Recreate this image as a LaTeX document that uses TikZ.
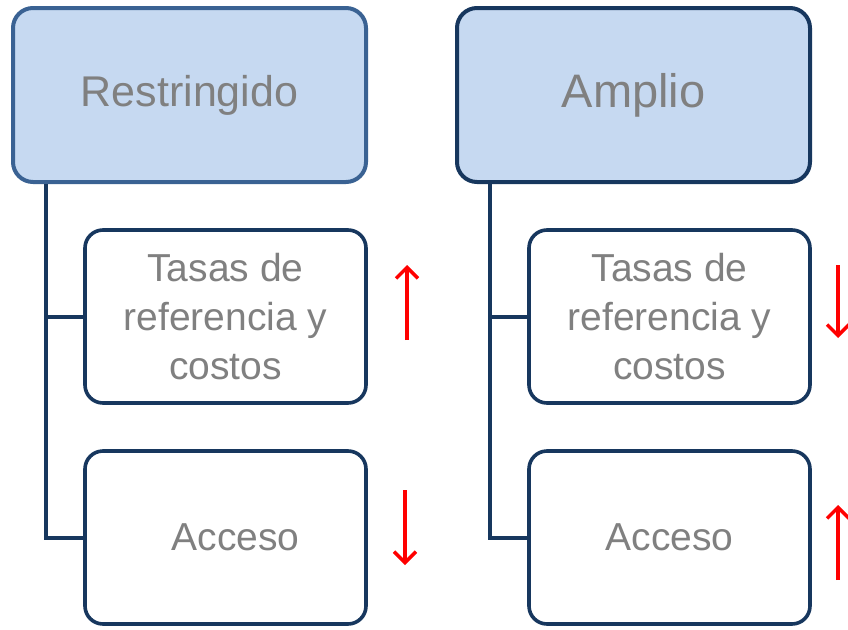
\documentclass[tikz,border=0pt]{standalone}
\usepackage{fontspec}
\setmainfont{Liberation Sans}
\usetikzlibrary{arrows.meta}
\definecolor{boxfill}{HTML}{C6D9F1}
\definecolor{navy}{HTML}{17375E}
\definecolor{midblue}{HTML}{3A6293}
\definecolor{txtgray}{HTML}{808080}
\tikzset{
    headbox/.style={draw=navy, fill=boxfill, line width=4pt, rounded corners=20pt, minimum width=353pt, minimum height=174pt, inner sep=0pt, text=txtgray, font=\fontsize{43}{52}\selectfont},
    itembox/.style={draw=navy, fill=white, line width=3.6pt, rounded corners=18pt, minimum width=281pt, minimum height=173pt, inner sep=0pt, text=txtgray, align=center, font=\fontsize{39}{49}\selectfont},
    branch/.style={draw=navy, line width=4pt},
    redarrow/.style={red, line width=3.4pt, -{Straight Barb[length=11pt,width=22pt,line width=3.4pt]}}
}
\begin{document}
\begin{tikzpicture}[x=1pt,y=-1pt]
        \useasboundingbox (0,0) rectangle (848,629);
        % left column
        \node[headbox, draw=midblue] (restr) at (189.5,95) {Restringido};
        \node[itembox] (restrTasas) at (225.5,316.5) {Tasas de\\referencia y\\costos};
        \node[itembox] (restrAcc) at (225.5,537.5) {\hspace*{20pt}Acceso};
        \draw[branch] ([xshift=35pt]restr.south west) |- (restrTasas.west);
        \draw[branch] ([xshift=35pt]restr.south west) |- (restrAcc.west);
        % right column
        \node[headbox, font=\fontsize{47}{56}\selectfont] (ampl) at (633.5,95) {Amplio};
        \node[itembox] (amplTasas) at (669.5,316.5) {Tasas de\\referencia y\\costos};
        \node[itembox] (amplAcc) at (669.5,537.5) {Acceso};
        \draw[branch] ([xshift=35pt]ampl.south west) |- (amplTasas.west);
        \draw[branch] ([xshift=35pt]ampl.south west) |- (amplAcc.west);
        % arrows
        \draw[redarrow] (407,340) -- (407,265);
        \draw[redarrow] (405,490) -- (405,565);
        \draw[redarrow] (838,265) -- (838,338);
        \draw[redarrow] (838,580) -- (838,505);
    \end{tikzpicture}
\end{document}
